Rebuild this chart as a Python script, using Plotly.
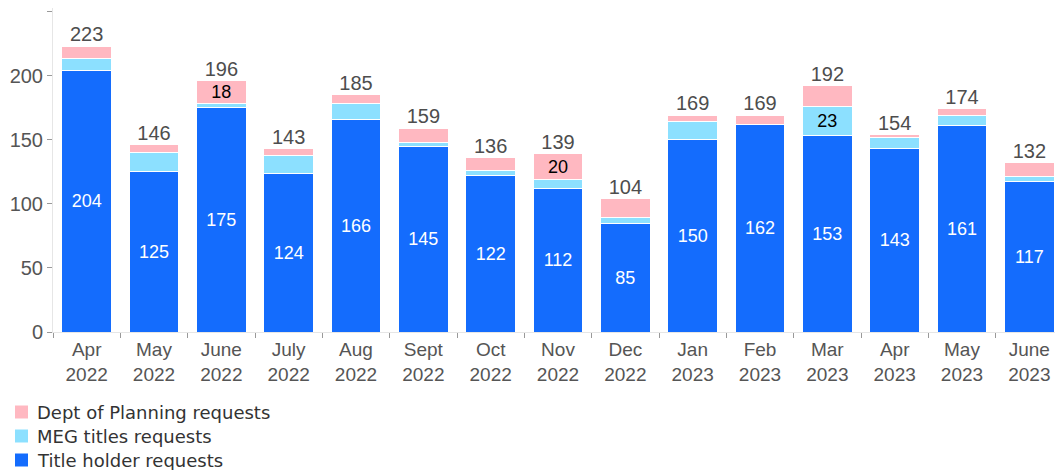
import plotly.graph_objects as go

months = ["Apr<br>2022", "May<br>2022", "June<br>2022", "July<br>2022", "Aug<br>2022", "Sept<br>2022",
          "Oct<br>2022", "Nov<br>2022", "Dec<br>2022", "Jan<br>2023", "Feb<br>2023", "Mar<br>2023",
          "Apr<br>2023", "May<br>2023", "June<br>2023"]
title_holder = [204, 125, 175, 124, 166, 145, 122, 112, 85, 150, 162, 153, 143, 161, 117]
meg_titles = [9, 15, 3, 14, 12, 3, 4, 7, 4, 14, 0, 23, 9, 8, 4]
dept_planning = [10, 6, 18, 5, 7, 11, 10, 20, 15, 5, 7, 16, 2, 5, 11]
series_names = ["Title holder requests", "MEG titles requests", "Dept of Planning requests"]
y_ticks = [0, 50, 100, 150, 200, 250]

totals = [a + b + c for a, b, c in zip(title_holder, meg_titles, dept_planning)]

C_TITLE = "#146CFD"
C_MEG = "#8CE0FF"
C_DEPT = "#FFB8C1"
colors = [C_TITLE, C_MEG, C_DEPT]
GREY = "#555555"
FONT = "Liberation Sans, Arial, sans-serif"
LEG_FONT = "DejaVu Sans, sans-serif"

W, H = 1055, 462
ML, MR, MT, MB = 45, 0, 0, 138
PW, PH = W - ML - MR, H - MT - MB


def px_x(px):
    return (px - ML) / PW


def px_y(py):
    return (H - MB - py) / PH


def lbl(vals, minv):
    return [str(v) if v >= minv else "" for v in vals]


fig = go.Figure()
inside_colors = ["white", "black", "black"]
for name, vals, col, tcol in zip(series_names, [title_holder, meg_titles, dept_planning], colors, inside_colors):
    fig.add_trace(go.Bar(x=months, y=vals, name=name, showlegend=False,
                         marker=dict(color=col, line=dict(color="white", width=1)),
                         text=lbl(vals, 18), textposition="inside", insidetextanchor="middle",
                         textangle=0, constraintext="none",
                         textfont=dict(color=tcol, size=18, family=FONT)))
fig.add_trace(go.Scatter(x=months, y=totals, mode="text", text=[str(t) for t in totals],
                         textposition="top center", showlegend=False, hoverinfo="skip",
                         cliponaxis=False,
                         textfont=dict(color="#4d4d4d", size=20, family=FONT)))

# custom legend (reversed order: Dept, MEG, Title)
shapes, annotations = [], []
row_y = [404, 428, 452]
for i, (name, col) in enumerate(zip(series_names[::-1], colors[::-1])):
    cy = row_y[i]
    shapes.append(dict(type="rect", xref="paper", yref="paper",
                       x0=px_x(7), x1=px_x(20), y0=px_y(cy - 6.5), y1=px_y(cy + 6.5),
                       fillcolor=col, line=dict(width=0)))
    annotations.append(dict(xref="paper", yref="paper", x=px_x(27), y=px_y(cy),
                            xanchor="left", yanchor="middle", showarrow=False, text=name,
                            font=dict(size=18, family=LEG_FONT, color="#333333")))

fig.update_layout(
    width=W, height=H,
    barmode="stack", bargap=0.26,
    margin=dict(l=ML, r=MR, t=MT, b=MB, autoexpand=False),
    plot_bgcolor="white", paper_bgcolor="white",
    showlegend=False,
    shapes=shapes, annotations=annotations,
    xaxis=dict(range=[-0.5, len(months) - 0.5], tickson="boundaries", ticks="outside",
               ticklen=5, tickcolor="#999",
               tickangle=0, automargin=False,
               showline=True, linecolor="#e6e6e6", linewidth=1,
               tickfont=dict(size=19, family=FONT, color=GREY)),
    yaxis=dict(range=[0, 252.7], tickvals=y_ticks, ticks="outside",
               ticklen=5, tickcolor="#999", showgrid=False, zeroline=False, automargin=False,
               showline=True, linecolor="#e6e6e6", linewidth=1,
               tickfont=dict(size=20, family=FONT, color=GREY)),
)

fig.write_html("out.html")
